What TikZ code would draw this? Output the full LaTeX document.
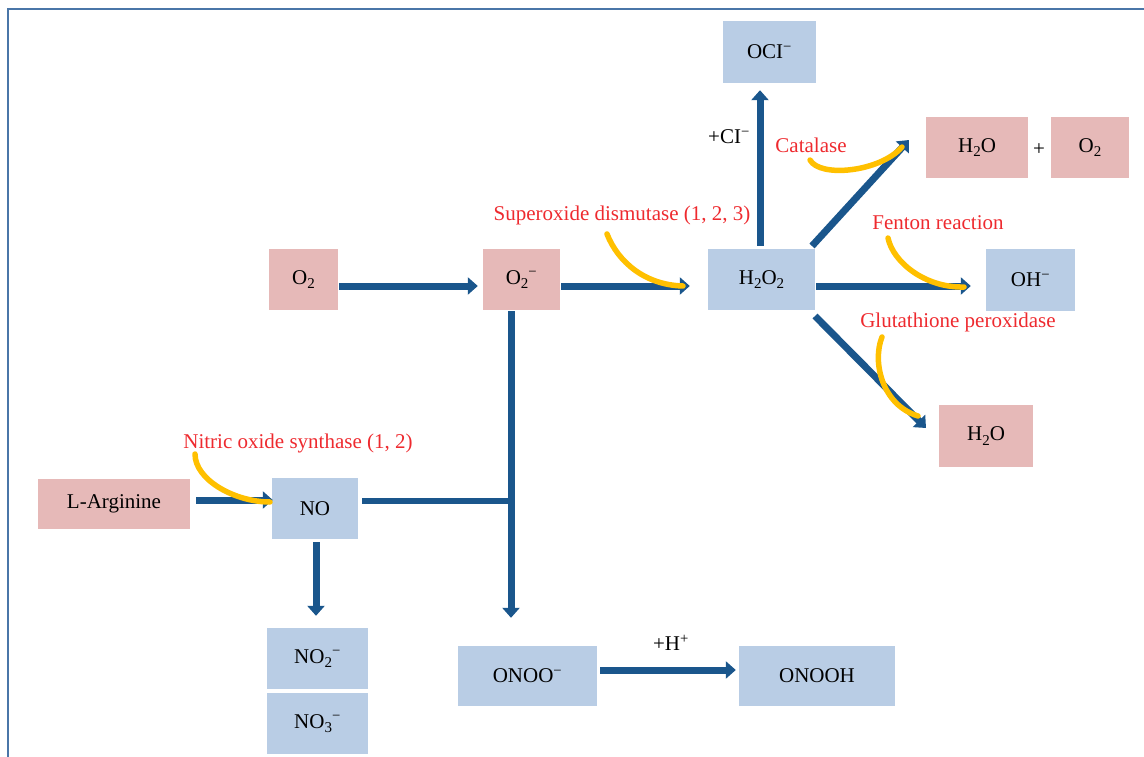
\documentclass[tikz,border=0pt]{standalone}
\usepackage{fontspec}
\setmainfont{Liberation Serif}
\usetikzlibrary{arrows.meta}
\definecolor{pinkb}{HTML}{E6B9B8}
\definecolor{blueb}{HTML}{B9CDE5}
\definecolor{flowc}{HTML}{1A568C}
\definecolor{enz}{HTML}{EE2A2F}
\definecolor{yel}{HTML}{FFC000}
\definecolor{framec}{HTML}{4A76A8}
\newcommand{\mneg}{\textsuperscript{−}}
\newcommand{\sbt}[1]{\raisebox{-0.45ex}{\fontsize{15}{15}\selectfont #1}}
\begin{document}
\begin{tikzpicture}[x=1pt,y=-1pt,
  font=\fontsize{21}{25}\selectfont,
  box/.style={inner sep=0pt, anchor=center, text=black},
  pinkbox/.style={box, fill=pinkb},
  bluebox/.style={box, fill=blueb},
  flow/.style={line width=7pt, draw=flowc, -{Triangle[width=17pt,length=10pt]}},
  thinflow/.style={line width=6pt, draw=flowc, -{Triangle[width=9pt,length=4pt]}},
  enzyme/.style={text=enz, inner sep=1pt},
  cat/.style={line width=5.5pt, draw=yel, line cap=round},
  lbl/.style={text=black, inner sep=1pt}]
\useasboundingbox (0,0) rectangle (1144,757);
\draw[framec, line width=2pt] (8,757) -- (8,9) -- (1144,9);

% boxes
\node[bluebox, minimum width=93pt, minimum height=62pt] (ocl) at (769.5,52) {OCI\mneg};
\node[pinkbox, minimum width=102pt, minimum height=61pt] (h2oa) at (977,147.5) {H\sbt{2}O};
\node[lbl] (plus) at (1039,150) {+};
\node[pinkbox, minimum width=78pt, minimum height=61pt] (o2b) at (1090,147.5) {O\sbt{2}};
\node[pinkbox, minimum width=69pt, minimum height=61pt] (o2) at (303.5,279.5) {O\sbt{2}};
\node[pinkbox, minimum width=77pt, minimum height=61pt] (o2m) at (521.5,279.5) {O\sbt{2}\mneg};
\node[bluebox, minimum width=107pt, minimum height=61pt] (h2o2) at (761.5,279.5) {H\sbt{2}O\sbt{2}};
\node[bluebox, minimum width=89pt, minimum height=62pt] (oh) at (1030.5,280) {OH\mneg};
\node[pinkbox, minimum width=94pt, minimum height=62pt] (h2ob) at (986,436) {H\sbt{2}O};
\node[pinkbox, minimum width=152pt, minimum height=50pt] (larg) at (114,504) {L-Arginine};
\node[bluebox, minimum width=86pt, minimum height=61pt] (no) at (315,508.5) {NO};
\node[bluebox, minimum width=101pt, minimum height=61pt] (no2) at (317.5,658.5) {NO\sbt{2}\mneg};
\node[bluebox, minimum width=101pt, minimum height=61pt] (no3) at (317.5,723.5) {NO\sbt{3}\mneg};
\node[bluebox, minimum width=139pt, minimum height=60pt] (onoo) at (527.5,676) {ONOO\mneg};
\node[bluebox, minimum width=156pt, minimum height=60pt] (onooh) at (817,676) {ONOOH};

% labels
\node[lbl] (cl) at (729,137) {+CI\mneg};
\node[lbl] (hplus) at (671,643) {+H\textsuperscript{+}};
\node[enzyme] (catl) at (811,145) {Catalase};
\node[enzyme] (sod) at (622,215) {Superoxide dismutase (1, 2, 3)};
\node[enzyme] (fen) at (938,223) {Fenton reaction};
\node[enzyme] (gpx) at (958,322) {Glutathione peroxidase};
\node[enzyme] (nos) at (298,443) {Nitric oxide synthase (1, 2)};

% helper coordinates
\coordinate (r1) at (0,286);
\coordinate (r3) at (0,500);
\coordinate (r4) at (0,670);
\coordinate (cx) at (760,0);
\coordinate (jx) at (511,0);
\coordinate (nx) at (316,0);
\coordinate (j) at (511,501);
\coordinate (d1s) at (812,246);
\coordinate (d1e) at (909,140);
\coordinate (d2s) at (815,316);
\coordinate (d2e) at (926,428);

% blue flow arrows
\draw[flow, shorten <=1pt, shorten >=5pt] (o2.east |- r1) -- (o2m.west |- r1);
\draw[flow, shorten <=1pt, shorten >=18pt] (o2m.east |- r1) -- (h2o2.west |- r1);
\draw[flow, shorten <=1pt, shorten >=15pt] (h2o2.east |- r1) -- (oh.west |- r1);
\draw[flow, shorten <=3pt, shorten >=7pt] (h2o2.north -| cx) -- (ocl.south -| cx);
\draw[flow] (d1s) -- (d1e);
\draw[flow] (d2s) -- (d2e);
\draw[flow, shorten <=1pt, shorten >=28pt] (o2m.south -| jx) -- (onoo.north -| jx);
\draw[thinflow, shorten <=4pt, shorten >=-4pt] (no.east |- j) -- (j);
\draw[flow, shorten <=6pt, shorten >=-1pt] (larg.east |- r3) -- (no.west |- r3);
\draw[flow, shorten <=3pt, shorten >=12pt] (no.south -| nx) -- (no2.north -| nx);
\draw[flow, shorten <=3pt, shorten >=3pt] (onoo.east |- r4) -- (onooh.west |- r4);

% yellow enzyme curves
\coordinate (ys1) at (810,160);  \coordinate (ye1) at (902,147);
\coordinate (ys2) at (607,234);  \coordinate (ye2) at (683,286);
\coordinate (ys3) at (888,238);  \coordinate (ye3) at (964,287);
\coordinate (ys4) at (882,337);  \coordinate (ye4) at (918,416);
\coordinate (ys5) at (195,454);  \coordinate (ye5) at (270,502);
\draw[cat] (ys1) .. controls (820,178) and (880,172) .. (ye1);
\draw[cat] (ys2) .. controls (618,262) and (645,285) .. (ye2);
\draw[cat] (ys3) .. controls (893,262) and (925,288) .. (ye3);
\draw[cat] (ys4) .. controls (872,362) and (882,405) .. (ye4);
\draw[cat] (ys5) .. controls (195,480) and (235,502) .. (ye5);
\end{tikzpicture}
\end{document}
